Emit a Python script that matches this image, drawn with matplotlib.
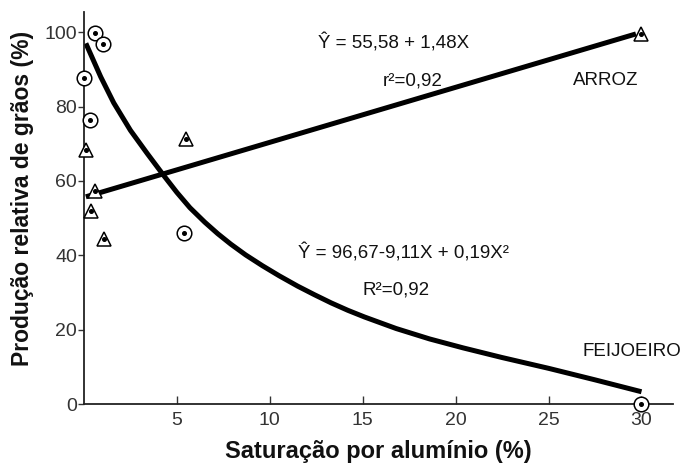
import numpy as np
import matplotlib
matplotlib.use("Agg")
import matplotlib.pyplot as plt

plt.rcParams["font.family"] = ["Liberation Sans", "DejaVu Sans"]

# observed points (x = Al saturation %, y = relative grain yield %)
feijao_x = [0.6, 1.0, 0.0, 0.3, 5.4, 30.0]
feijao_y = [99.8, 96.8, 87.6, 76.3, 46.0, 0.0]
arroz_x = [0.1, 0.6, 0.4, 1.1, 5.5, 30.0]
arroz_y = [68.3, 57.3, 51.9, 44.4, 71.2, 99.5]

# fitted curve for feijoeiro as drawn
curva_x = [0.1, 0.9, 1.6, 2.5, 3.4, 4.3, 5.0, 5.7, 6.5, 7.2, 7.9, 8.7, 9.6,
           10.5, 11.5, 12.4, 13.3, 14.2, 15.1, 16.8, 18.6, 20.4, 22.5, 25.0,
           27.5, 30.0]
curva_y = [97.0, 88.0, 81.0, 73.6, 67.4, 61.4, 56.9, 52.8, 48.9, 45.8, 43.0,
           40.1, 37.2, 34.5, 31.7, 29.4, 27.2, 25.2, 23.4, 20.3, 17.5, 15.1,
           12.5, 9.6, 6.5, 3.3]

# linear fit for arroz
a0, a1 = 55.58, 1.48
reta_x = np.array([0.1, 29.7])

fig = plt.figure(figsize=(6.85, 4.66), dpi=100)
ax = fig.add_axes([0.1226, 0.133, 0.86, 0.841])

ax.plot(reta_x, a0 + a1 * reta_x, color="black", lw=3.6, solid_capstyle="butt", zorder=2)
ax.plot(curva_x, curva_y, color="black", lw=3.6, solid_capstyle="butt",
        solid_joinstyle="round", zorder=2)

ax.plot(feijao_x, feijao_y, "o", ms=10.5, mfc="white", mec="black", mew=1.1,
        ls="none", zorder=3, clip_on=False)
ax.plot(feijao_x, feijao_y, "o", ms=2.6, color="black", ls="none", zorder=4, clip_on=False)
ax.plot(arroz_x, arroz_y, "^", ms=10.5, mfc="white", mec="black", mew=1.1,
        ls="none", zorder=3, clip_on=False)
ax.plot(arroz_x, arroz_y, "o", ms=2.6, color="black", ls="none", zorder=4, clip_on=False)

txt = dict(fontsize=13.5, color="#111111", va="center", ha="left")
ax.text(12.6, 97.0, "Ŷ = 55,58 + 1,48X", **txt)
ax.text(16.1, 87.0, "r²=0,92", **txt)
ax.text(26.3, 87.0, "ARROZ", **txt)
ax.text(11.5, 40.6, "Ŷ = 96,67-9,11X + 0,19X²", **txt)
ax.text(15.0, 30.6, "R²=0,92", **txt)
ax.text(26.8, 14.0, "FEIJOEIRO", **txt)

ax.set_xlim(0, 31.7)
ax.set_ylim(0, 105.4)
ax.set_xticks([5, 10, 15, 20, 25, 30])
ax.set_yticks([0, 20, 40, 60, 80, 100])
ax.tick_params(axis="x", direction="in", length=6, width=1, labelsize=14, pad=6,
               colors="#333333")
ax.tick_params(axis="y", direction="out", length=4, width=1, labelsize=14, pad=1,
               colors="#333333")
for side in ["top", "right"]:
    ax.spines[side].set_visible(False)
for side in ["left", "bottom"]:
    ax.spines[side].set_linewidth(1.3)
    ax.spines[side].set_color("#222222")

ax.set_xlabel("Saturação por alumínio (%)", fontsize=17, fontweight="bold",
              color="#111111", labelpad=8)
ax.set_ylabel("Produção relativa de grãos (%)", fontsize=16.5, fontweight="bold",
              color="#111111")
ax.yaxis.set_label_coords(-0.084, 0.525)

fig.savefig("out.png", dpi=100)
